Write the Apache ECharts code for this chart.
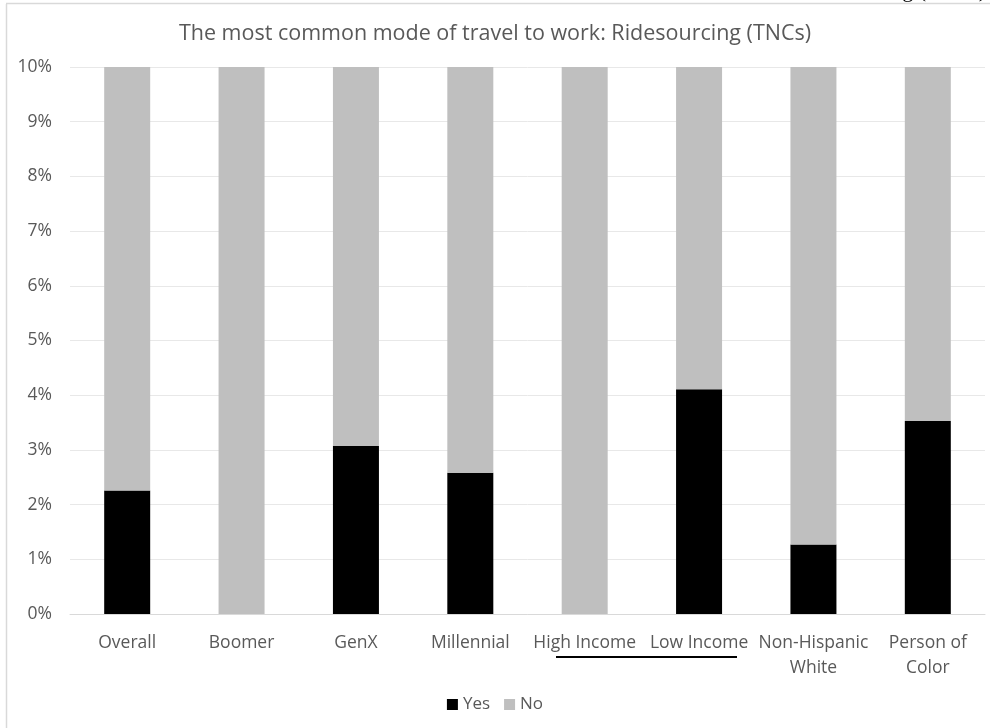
<!DOCTYPE html>
<html><head><meta charset="utf-8">
<script src="https://cdn.jsdelivr.net/npm/echarts@6/dist/echarts.min.js"></script>
<style>html,body{margin:0;padding:0;background:#fff}#c{width:990px;height:728px}</style>
</head><body><div id="c"></div>
<script>
const categories = ['Overall','Boomer','GenX','Millennial','High Income','Low Income','Non-Hispanic\nWhite','Person of\nColor'];
const yesValues = [2.26, 0, 3.07, 2.58, 0, 4.11, 1.27, 3.53];
const noValues = yesValues.map(v => +(100 - v).toFixed(2));
const yTicks = [0,1,2,3,4,5,6,7,8,9,10];
const titleText = 'The most common mode of travel to work: Ridesourcing (TNCs)';
const font = '"Open Sans", sans-serif';

const chart = echarts.init(document.getElementById('c'));
chart.setOption({
  animation: false,
  backgroundColor: '#fff',
  title: {
    text: titleText, left: 'center', top: 18,
    textStyle: {fontFamily: font, fontSize: 21.5, fontWeight: 'normal', color: '#595959'}
  },
  legend: {
    bottom: 10, left: 'center', itemWidth: 11, itemHeight: 11, itemGap: 14,
    icon: 'rect',
    data: ['Yes','No'],
    textStyle: {fontFamily: font, fontSize: 17, color: '#595959'}
  },
  grid: {left: 70, right: 5, top: 67, bottom: 114},
  xAxis: {
    type: 'category', data: categories,
    axisLine: {lineStyle: {color: '#d9d9d9'}},
    axisTick: {show: false},
    axisLabel: {fontFamily: font, fontSize: 17.5, color: '#595959', margin: 17, lineHeight: 25, interval: 0}
  },
  yAxis: {
    type: 'value', min: 0, max: 10, interval: 1,
    axisLabel: {fontFamily: font, fontSize: 17.5, color: '#595959', margin: 18,
      formatter: v => yTicks.includes(v) ? v + '%' : ''},
    splitLine: {lineStyle: {color: '#e8e8e8'}},
    axisLine: {show: false}, axisTick: {show: false}
  },
  series: [
    {name: 'Yes', type: 'bar', stack: 's', data: yesValues, barWidth: 46, itemStyle: {color: '#000000'}},
    {name: 'No', type: 'bar', stack: 's', data: noValues, barWidth: 46, itemStyle: {color: '#bfbfbf'}}
  ],
  graphic: [
    {type: 'line', shape: {x1: 6.5, y1: 4, x2: 6.5, y2: 728}, style: {stroke: '#d9d9d9', lineWidth: 1.5}},
    {type: 'line', shape: {x1: 6, y1: 3.5, x2: 990, y2: 3.5}, style: {stroke: '#d9d9d9', lineWidth: 1.5}},
    {type: 'line', shape: {x1: 556, y1: 657, x2: 737, y2: 657}, style: {stroke: '#000', lineWidth: 2}},
    {type: 'text', right: 4, top: -20, style: {text: 'Ridesourcing (TNCs)', font: '22px "Liberation Serif", serif', fill: '#000'}}
  ]
});
</script></body></html>
